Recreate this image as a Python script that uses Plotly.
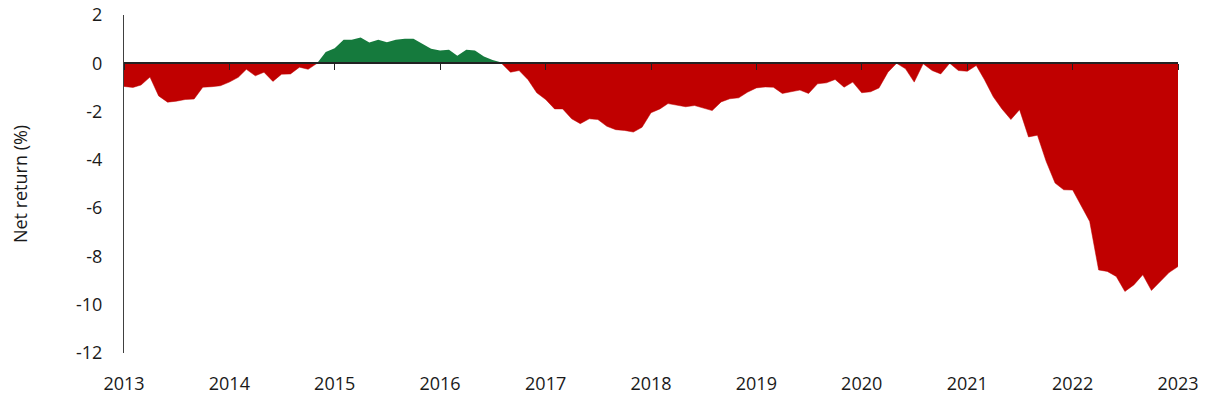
import pandas as pd
import plotly.graph_objects as go

# Monthly net return (%), Jan 2013 .. Jan 2023
months = pd.date_range("2013-01-01", "2023-01-01", freq="MS")
net_return = [
    -0.96, -1.00, -0.90, -0.57, -1.35, -1.61, -1.57, -1.50, -1.48, -0.99, -0.97, -0.93,   # 2013
    -0.78, -0.58, -0.25, -0.52, -0.37, -0.75, -0.45, -0.44, -0.16, -0.25, 0.00, 0.47,     # 2014
    0.62, 0.98, 0.98, 1.07, 0.86, 0.97, 0.87, 0.97, 1.02, 1.02, 0.81, 0.60,               # 2015
    0.53, 0.56, 0.31, 0.56, 0.53, 0.28, 0.14, 0.03, -0.37, -0.30, -0.68, -1.22,           # 2016
    -1.50, -1.89, -1.89, -2.30, -2.50, -2.30, -2.33, -2.61, -2.75, -2.78, -2.85, -2.65,   # 2017
    -2.05, -1.89, -1.67, -1.75, -1.80, -1.75, -1.85, -1.96, -1.60, -1.47, -1.43, -1.20,   # 2018
    -1.02, -0.98, -0.99, -1.25, -1.18, -1.11, -1.25, -0.85, -0.81, -0.67, -0.99, -0.78,   # 2019
    -1.22, -1.18, -1.02, -0.37, 0.00, -0.23, -0.78, -0.02, -0.30, -0.44, 0.00, -0.30,     # 2020
    -0.33, -0.09, -0.67, -1.39, -1.89, -2.33, -1.92, -3.05, -2.98, -4.06, -4.96, -5.24,   # 2021
    -5.25, -5.90, -6.55, -8.56, -8.62, -8.83, -9.45, -9.18, -8.76, -9.41, -9.04, -8.67,   # 2022
    -8.42,                                                                                 # 2023
]
year_ticks = pd.date_range("2013-01-01", "2023-01-01", freq="YS")
year_labels = [str(d.year) for d in year_ticks]
y_ticks = [2, 0, -2, -4, -6, -8, -10, -12]

positive = [max(v, 0) for v in net_return]
negative = [min(v, 0) for v in net_return]

GREEN = "#157A3D"
RED = "#C00000"
FONT = "Open Sans"

fig = go.Figure()
fig.add_trace(go.Scatter(x=months, y=negative, mode="lines", fill="tozeroy",
                         fillcolor=RED, line=dict(color=RED, width=0.5),
                         hoverinfo="skip", showlegend=False))
fig.add_trace(go.Scatter(x=months, y=positive, mode="lines", fill="tozeroy",
                         fillcolor=GREEN, line=dict(color=GREEN, width=0),
                         hoverinfo="skip", showlegend=False))
# invisible trace to activate the zero-line axis
fig.add_trace(go.Scatter(x=[months[0]], y=[0], xaxis="x2", mode="markers",
                         marker=dict(opacity=0), hoverinfo="skip", showlegend=False))

x_range = [months[0], months[-1]]

fig.update_layout(
    width=1211, height=396,
    margin=dict(l=124, r=33, t=15, b=43, autoexpand=False),
    paper_bgcolor="white", plot_bgcolor="white",
    font=dict(family=FONT, size=18, color="#1a1a1a"),
    hovermode=False,
    xaxis=dict(type="date", range=x_range, tickvals=year_ticks, ticktext=year_labels,
               ticks="", showline=False, showgrid=False, zeroline=False, automargin=False,
               ticklabelstandoff=18, tickfont=dict(size=18)),
    xaxis2=dict(type="date", range=x_range, overlaying="x", anchor="free",
                position=12 / 14, side="bottom", tickvals=year_ticks, automargin=False,
                ticks="outside", ticklen=6, tickwidth=1.2, tickcolor="#222",
                showline=True, linecolor="#222", linewidth=1.5,
                showticklabels=False, showgrid=False, zeroline=False),
    yaxis=dict(range=[-12, 2], tickvals=y_ticks, ticktext=[str(v) for v in y_ticks],
               ticks="", showline=True, linecolor="#404040", linewidth=1, automargin=False,
               showgrid=False, zeroline=False, ticklabelstandoff=17,
               tickfont=dict(size=18),
               title=dict(text="Net return (%)", font=dict(size=18), standoff=43)),
)

fig.write_html("out.html")
